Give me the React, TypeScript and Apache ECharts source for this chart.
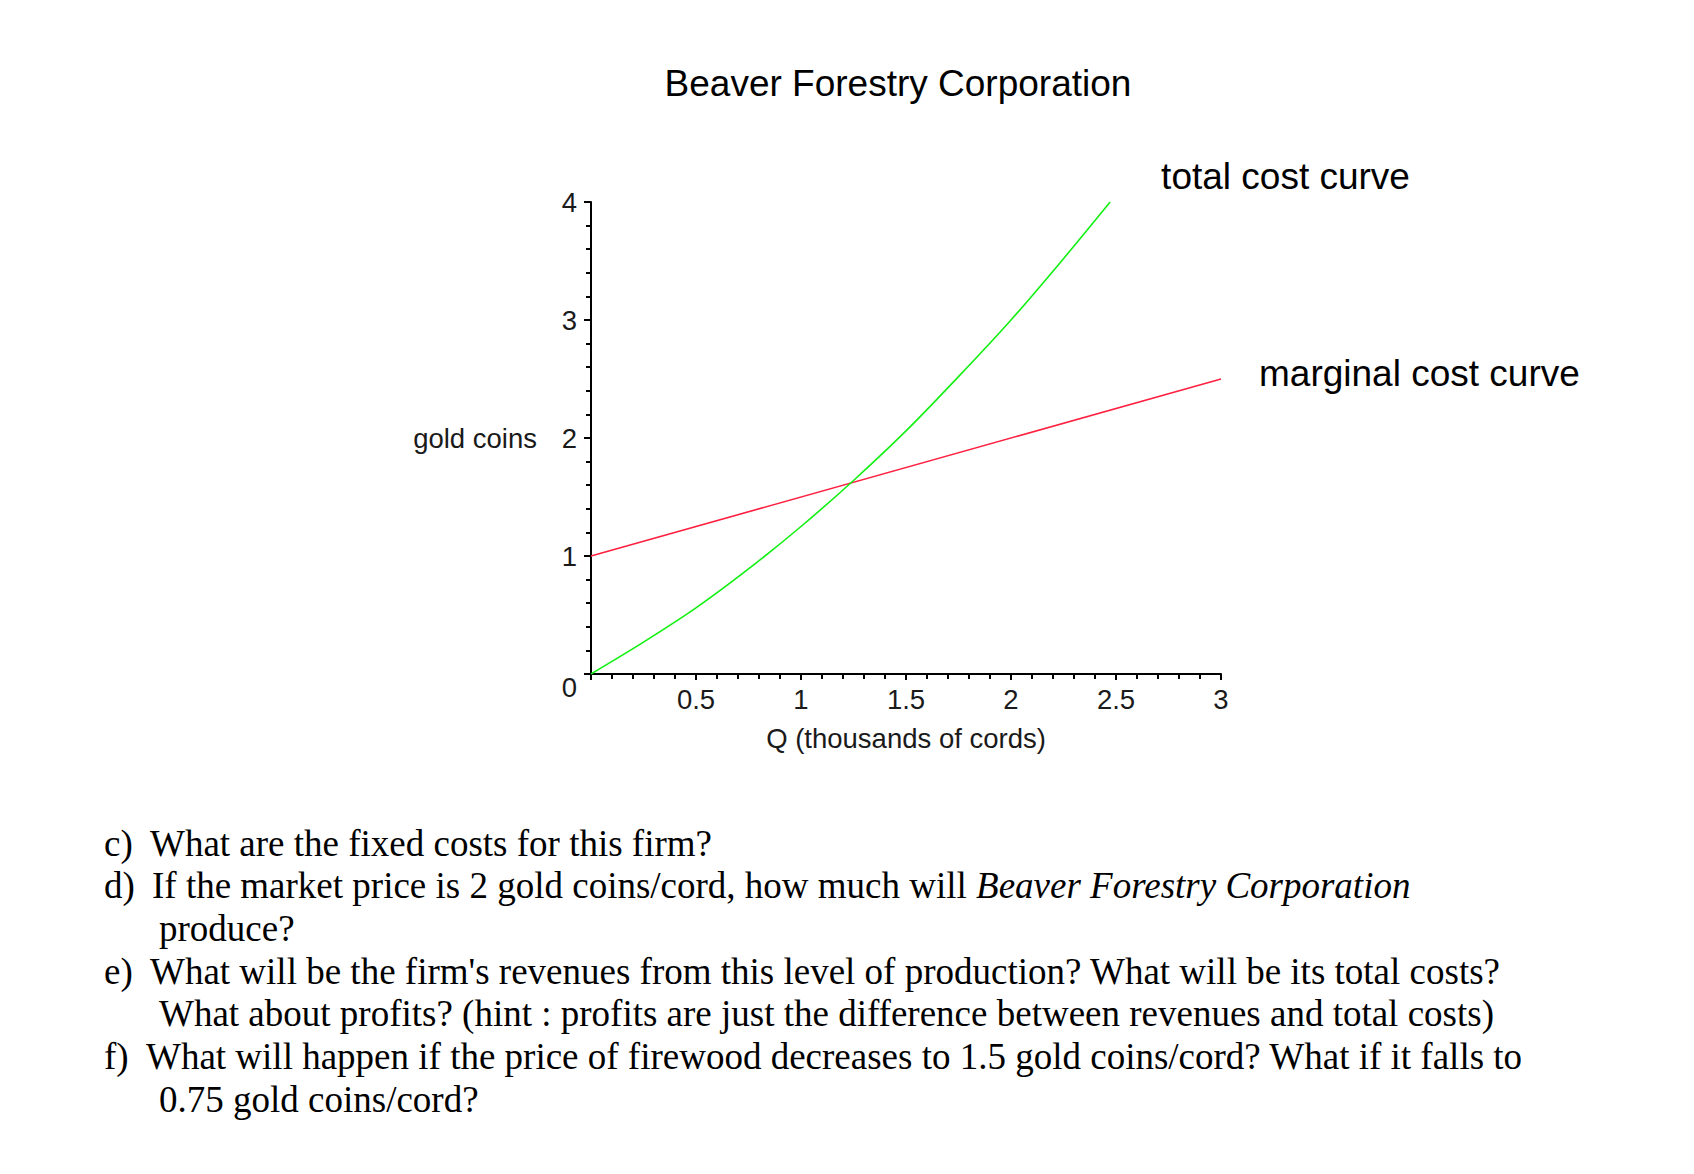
import React, { useEffect, useRef } from "react";
import * as echarts from "echarts";

const title = "Beaver Forestry Corporation";
const xAxisName = "Q (thousands of cords)";
const yAxisName = "gold coins";
const tcLabel = "total cost curve";
const mcLabel = "marginal cost curve";

const tcQ = [0, 0.25, 0.5, 0.75, 1, 1.25, 1.5, 1.75, 2, 2.25, 2.472];
const tcValues = [0, 0.27, 0.56, 0.89, 1.25, 1.64, 2.06, 2.52, 3.0, 3.52, 4.0];
const mcQ = [0, 3];
const mcValues = [1, 2.5];

const questionLines = [
  { tag: "c)", text: "What are the fixed costs for this firm?" },
  { tag: "d)", text: "If the market price is 2 gold coins/cord, how much will {i|Beaver Forestry Corporation}" },
  { tag: "", text: "produce?" },
  { tag: "e)", text: "What will be the firm's revenues from this level of production? What will be its total costs?" },
  { tag: "", text: "What about profits? (hint : profits are just the difference between revenues and total costs)" },
  { tag: "f)", text: "What will happen if the price of firewood decreases to 1.5 gold coins/cord? What if it falls to" },
  { tag: "", text: "0.75 gold coins/cord?" },
];

export default function App() {
  const ref = useRef<HTMLDivElement>(null);
  useEffect(() => {
    if (!ref.current) return;
    const chart = echarts.init(ref.current, undefined, { renderer: "svg" });
    const axisFont = { fontFamily: "Liberation Sans", fontSize: 27.5, color: "#1a1a1a" };
    const serif = "Liberation Serif";
    const qFont = 37;
    const qStartY = 843;
    const qStep = 42.7;
    const qElements: any[] = [];
    questionLines.forEach((l, i) => {
      const y = qStartY + i * qStep;
      if (l.tag) {
        qElements.push({
          type: "text",
          x: 104,
          y,
          style: { text: l.tag, fontFamily: serif, fontSize: qFont, fill: "#000", verticalAlign: "middle" },
        });
      }
      const tx = l.tag ? (l.tag === "f)" ? 146 : l.tag === "d)" ? 152 : 150) : 159;
      qElements.push({
        type: "text",
        x: tx,
        y,
        style: {
          text: l.text,
          fontFamily: serif,
          fontSize: qFont,
          fill: "#000",
          verticalAlign: "middle",
          rich: {
            i: { fontFamily: serif, fontSize: qFont, fontStyle: "italic", fill: "#000" },
          },
        },
      });
    });

    chart.setOption({
      animation: false,
      backgroundColor: "#fff",
      title: {
        text: title,
        left: 893,
        top: 78,
        textAlign: "center",
        textVerticalAlign: "middle",
        textStyle: { fontFamily: "Liberation Sans", fontSize: 37, fontWeight: "normal", color: "#000" },
      },
      grid: { left: 591, right: 473, top: 202, bottom: 500, containLabel: false },
      xAxis: {
        type: "value",
        min: 0,
        max: 3,
        interval: 0.5,
        name: xAxisName,
        nameLocation: "middle",
        nameGap: 50,
        nameTextStyle: { ...axisFont },
        axisLine: { show: true, lineStyle: { color: "#000", width: 2 } },
        axisTick: { show: true, length: 6, lineStyle: { color: "#000", width: 2 } },
        minorTick: { show: true, splitNumber: 5, length: 5, lineStyle: { color: "#000", width: 2 } },
        splitLine: { show: false },
        axisLabel: {
          ...axisFont,
          margin: 11,
          formatter: (v: number) => (v === 0 ? "" : String(v)),
        },
      },
      yAxis: {
        type: "value",
        min: 0,
        max: 4,
        interval: 1,
        name: yAxisName,
        nameLocation: "middle",
        nameRotate: 0,
        nameGap: 54,
        nameTextStyle: { ...axisFont, align: "right", verticalAlign: "middle" },
        axisLine: { show: true, lineStyle: { color: "#000", width: 2 } },
        axisTick: { show: true, length: 7, lineStyle: { color: "#000", width: 2 } },
        minorTick: { show: true, splitNumber: 5, length: 5, lineStyle: { color: "#000", width: 2 } },
        splitLine: { show: false },
        axisLabel: {
          ...axisFont,
          margin: 14,
          formatter: (v: number) => (v === 0 ? "{z|0}" : String(v)),
          rich: { z: { ...axisFont, padding: [26, 0, 0, 0] } },
        },
      },
      series: [
        {
          type: "line",
          name: "marginal cost",
          data: mcQ.map((q, i) => [q, mcValues[i]]),
          showSymbol: false,
          lineStyle: { color: "#ff2040", width: 1.6 },
          endLabel: {
            show: true,
            formatter: mcLabel,
            fontFamily: "Liberation Sans",
            fontSize: 37,
            color: "#000",
            distance: 38,
            offset: [0, -6],
          },
          z: 2,
        },
        {
          type: "line",
          name: "total cost",
          data: tcQ.map((q, i) => [q, tcValues[i]]),
          smooth: 0.3,
          showSymbol: false,
          lineStyle: { color: "#11f011", width: 1.6 },
          endLabel: {
            show: true,
            formatter: tcLabel,
            fontFamily: "Liberation Sans",
            fontSize: 37,
            color: "#000",
            distance: 51,
            offset: [0, -26],
          },
          z: 3,
        },
      ],
      graphic: qElements,
    });
    return () => chart.dispose();
  }, []);
  return (
    <div
      ref={ref}
      style={{ position: "absolute", left: 0, top: 0, width: 1694, height: 1174, background: "#fff" }}
    />
  );
}
